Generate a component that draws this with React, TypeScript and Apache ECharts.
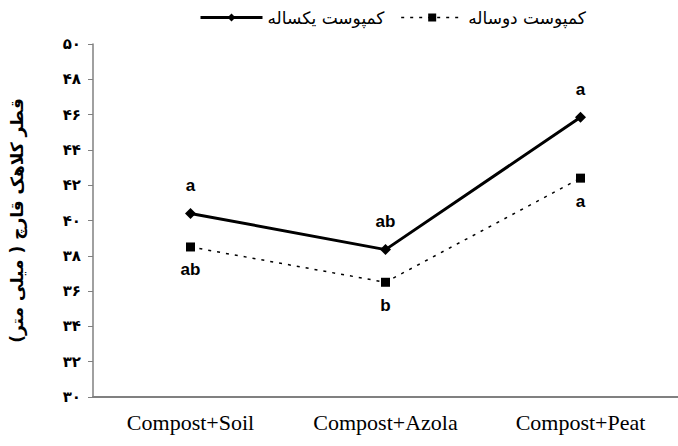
import React, { useEffect, useRef } from "react";
import * as echarts from "echarts";

const categories = ["Compost+Soil", "Compost+Azola", "Compost+Peat"];
const annualName = "کمپوست یکساله";
const biennialName = "کمپوست دوساله";
const annualValues = [40.4, 38.35, 45.85];
const biennialValues = [38.5, 36.5, 42.4];
const annualLetters = ["a", "ab", "a"];
const biennialLetters = ["ab", "b", "a"];
const yTitle = "قطر کلاهک قارچ ( میلی متر)";
const yMin = 30;
const yMax = 50;
const yStep = 2;

const toPersian = (v: number | string) =>
  String(v).replace(/\d/g, (d) => "۰۱۲۳۴۵۶۷۸۹"[Number(d)]);

export default function App() {
  const ref = useRef<HTMLDivElement>(null);
  useEffect(() => {
    if (!ref.current) return;
    const chart = echarts.init(ref.current, null, { renderer: "svg" });
    const labelFont = {
      fontFamily: "Liberation Sans, Arial, sans-serif",
      fontWeight: "bold" as const,
      fontSize: 17,
      color: "#000",
    };
    chart.setOption({
      animation: false,
      backgroundColor: "#fff",
      legend: {
        left: 194,
        top: 4,
        itemWidth: 62,
        itemHeight: 10,
        itemGap: 16,
        textStyle: { fontFamily: "DejaVu Sans", fontSize: 17, color: "#000" },
        data: [
          { name: annualName, lineStyle: { width: 3 } },
          { name: biennialName, lineStyle: { width: 1.5, type: [3, 6] } },
        ],
      },
      grid: { left: 89, top: 44, width: 600, height: 353 },
      xAxis: {
        type: "category",
        data: categories,
        boundaryGap: true,
        axisLine: { lineStyle: { color: "#808080", width: 2 } },
        axisTick: { show: false },
        axisLabel: {
          margin: 14,
          fontFamily: "Liberation Serif, Times New Roman, serif",
          fontSize: 22,
          color: "#000",
        },
      },
      yAxis: {
        type: "value",
        min: yMin,
        max: yMax,
        interval: yStep,
        splitLine: { show: false },
        axisLine: { show: true, lineStyle: { color: "#808080", width: 1.5 } },
        axisTick: { show: true, length: 5, lineStyle: { color: "#808080" } },
        axisLabel: {
          margin: 12,
          formatter: (v: number) => toPersian(v),
          fontFamily: "DejaVu Sans",
          fontWeight: "bold",
          fontSize: 15,
          color: "#000",
        },
        name: yTitle,
        nameLocation: "middle",
        nameRotate: 90,
        nameGap: 68,
        nameTextStyle: {
          fontFamily: "DejaVu Sans",
          fontWeight: "bold",
          fontSize: 17,
          color: "#000",
        },
      },
      series: [
        {
          name: annualName,
          type: "line",
          data: annualValues,
          symbol: "diamond",
          symbolSize: 11,
          itemStyle: { color: "#000" },
          lineStyle: { color: "#000", width: 3 },
          label: {
            show: true,
            position: "top",
            distance: 14,
            formatter: (p: any) => annualLetters[p.dataIndex],
            ...labelFont,
          },
        },
        {
          name: biennialName,
          type: "line",
          data: biennialValues,
          symbol: "rect",
          symbolSize: 9,
          itemStyle: { color: "#000" },
          lineStyle: { color: "#000", width: 1.5, type: [3, 6] },
          label: {
            show: true,
            position: "bottom",
            distance: 10,
            formatter: (p: any) => biennialLetters[p.dataIndex],
            ...labelFont,
          },
        },
      ],
    });
    return () => chart.dispose();
  }, []);
  return (
    <div
      ref={ref}
      style={{ position: "fixed", left: 0, top: 0, width: 678, height: 446 }}
    />
  );
}
